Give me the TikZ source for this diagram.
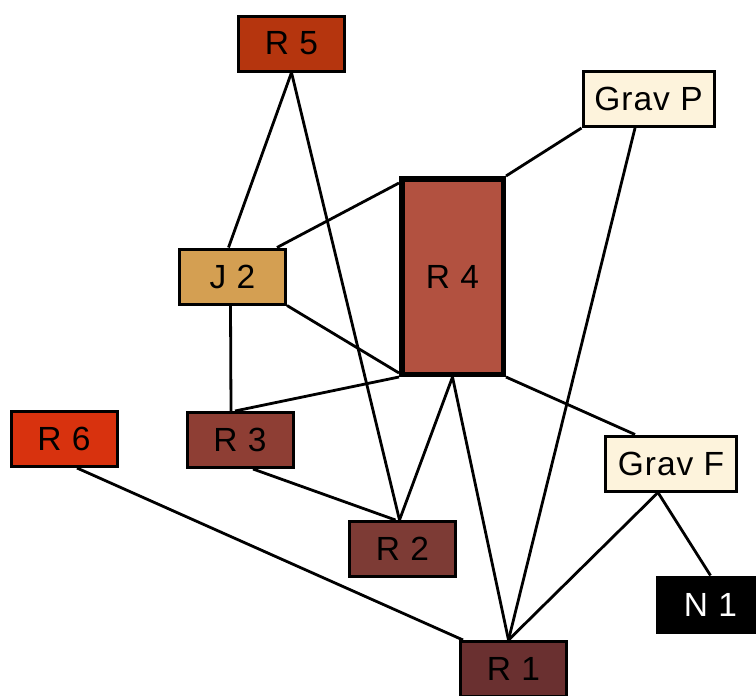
\documentclass[tikz,border=0pt]{standalone}
\usepackage{fontspec}
\setmainfont{Liberation Sans}[LetterSpace=3]
\usetikzlibrary{backgrounds}
\begin{document}
\begin{tikzpicture}[x=1pt,y=-1pt,
  box/.style={draw=black,line width=3pt,inner sep=0pt,minimum width=106pt,minimum height=55pt,font=\fontsize{33.5}{33.5}\selectfont,anchor=center},
  widebox/.style={box,minimum width=131pt},
  edge/.style={draw=black,line width=2.8pt}]
\definecolor{cR5}{RGB}{181,53,14}
\definecolor{cGr}{RGB}{253,243,220}
\definecolor{cR4}{RGB}{178,81,64}
\definecolor{cJ2}{RGB}{212,159,82}
\definecolor{cR6}{RGB}{216,50,14}
\definecolor{cR3}{RGB}{142,62,52}
\definecolor{cR2}{RGB}{125,59,53}
\definecolor{cR1}{RGB}{106,48,48}
\useasboundingbox (0,0) rectangle (756,696);
\clip (0,0) rectangle (756,696);
\node[box,fill=cR5] (r5) at (291.5,43.5) {R 5};
\node[widebox,fill=cGr] (gp) at (648.5,99) {Grav P};
\node[box,fill=cR4,line width=5.5pt,minimum width=101.5pt,minimum height=195.5pt] (r4) at (452.5,276.5) {R 4};
\node[box,fill=cJ2] (j2) at (232.5,276.5) {J 2};
\node[box,fill=cR6] (r6) at (64,439) {R 6};
\node[box,fill=cR3] (r3) at (240,440) {R 3};
\node[widebox,fill=cGr] (gf) at (671,463.5) {Grav F};
\node[box,fill=cR2] (r2) at (402.5,549) {R 2};
\node[box,fill=black,text=white] (n1) at (710.5,604.5) {N 1};
\node[box,fill=cR1] (r1) at (513.5,669) {R 1};
\begin{scope}[on background layer]
\draw[edge] (r5.south) -- ([xshift=-4pt]j2.north);
\draw[edge] (r5.south) -- ([xshift=-3pt]r2.north);
\draw[edge] ([xshift=-10pt]j2.north east) -- ([yshift=-7pt]r4.north west);
\draw[edge] (r4.north east) -- (gp.south west);
\draw[edge] (j2.south east) -- ([yshift=4pt]r4.south west);
\draw[edge] (r4.south east) -- ([xshift=-36pt]gf.north);
\draw[edge] ([xshift=-2pt]j2.south) -- ([xshift=-9pt]r3.north);
\draw[edge] ([xshift=-5pt]r3.north) -- (r4.south west);
\draw[edge] ([xshift=13pt]r3.south) -- ([xshift=-7pt]r2.north);
\draw[edge] (r4.south) -- ([xshift=-3pt]r2.north);
\draw[edge] (r4.south) -- ([xshift=-5pt]r1.north);
\draw[edge] ([xshift=-13.5pt]gp.south) -- ([xshift=-5pt]r1.north);
\draw[edge] ([xshift=-13pt]gf.south) -- ([xshift=-5pt]r1.north);
\draw[edge] ([xshift=-13pt]gf.south) -- (n1.north);
\draw[edge] ([xshift=13pt]r6.south) -- ([xshift=4pt]r1.north west);
\end{scope}
\end{tikzpicture}
\end{document}
